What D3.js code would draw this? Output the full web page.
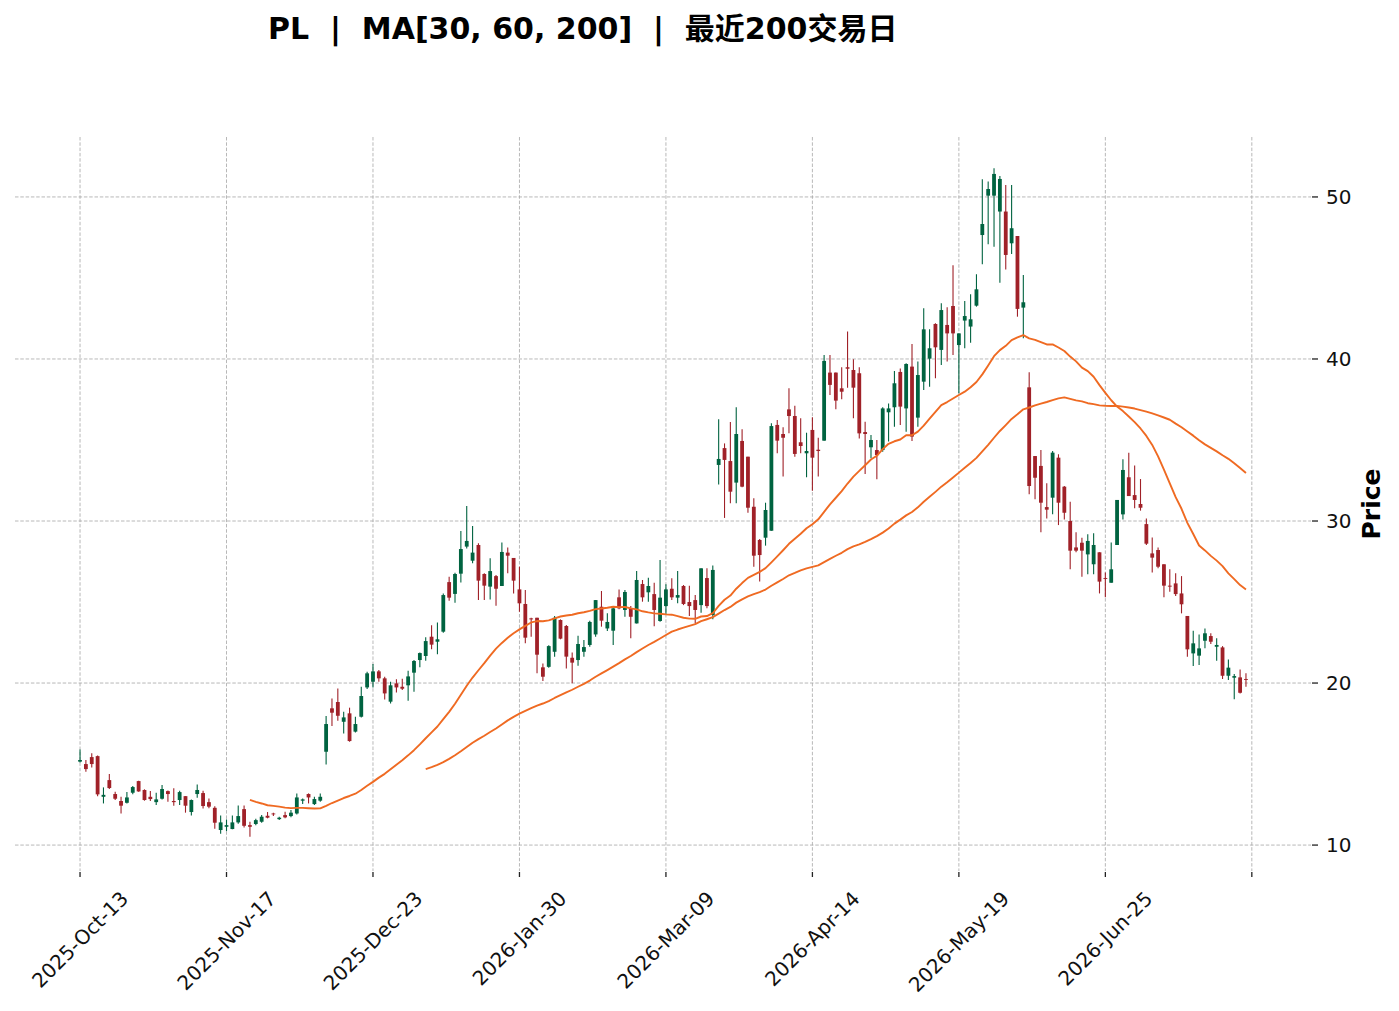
<!DOCTYPE html>
<html>
<head>
<meta charset="utf-8">
<script src="https://cdn.jsdelivr.net/npm/d3@7/dist/d3.min.js"></script>
<style>
  html, body { margin: 0; padding: 0; background: #ffffff; }
  svg { display: block; }
  text { font-family: "DejaVu Sans", "Noto Sans CJK SC", sans-serif; }
</style>
</head>
<body>
<svg id="chart" width="1399" height="1011"></svg>
<script>
// ---- data ----
const ticker = "PL";
const maPeriods = [30, 60, 200];
const titleSuffix = "最近200交易日";

const opens = [15.15,15.0,15.43,15.49,12.98,14.01,13.15,12.72,12.61,13.23,13.95,13.4,12.98,12.65,12.86,13.33,12.72,12.78,13.02,12.04,
13.15,13.21,12.65,12.3,10.93,11.13,10.99,11.4,12.22,11.23,11.3,11.44,11.81,11.95,11.6,11.85,11.79,11.95,12.74,13.15,
12.53,12.74,15.76,18.44,18.83,17.61,18.13,17.0,17.92,19.73,20.08,20.72,20.29,18.85,19.98,19.77,19.86,20.64,21.42,21.67,
22.86,22.55,23.17,26.23,25.5,26.75,28.42,27.55,28.52,26.73,25.95,26.6,25.99,28.05,27.72,25.78,24.88,23.99,24.03,20.97,
21.0,21.93,23.89,23.52,21.56,21.42,21.93,22.35,23.0,24.71,23.37,23.23,25.29,24.51,24.61,23.68,26.11,25.6,25.49,23.83,
24.75,25.82,25.27,25.99,25.0,25.12,24.81,26.48,24.2,33.46,34.5,33.7,32.37,34.94,33.97,30.88,28.83,28.97,29.4,35.93,
35.37,36.89,36.48,34.86,34.18,35.62,34.4,34.96,39.16,39.16,38.19,39.49,39.32,39.12,35.49,34.55,34.38,34.38,36.71,37.02,
39.2,36.95,39.53,36.38,38.6,40.02,42.16,40.56,42.1,43.27,40.86,42.37,42.0,43.29,47.65,50.08,50.08,49.1,49.1,47.14,
47.59,43.17,38.25,34.01,33.4,30.86,31.44,33.91,32.12,30.0,28.37,28.66,27.94,27.33,28.07,26.48,26.19,28.52,30.41,32.7,
31.6,31.05,29.81,28.0,28.21,27.33,26.01,26.15,25.53,24.14,21.83,21.69,22.61,22.9,22.24,22.2,20.45,20.33,20.35,20.25];

const highs = [15.9,15.25,15.66,15.53,13.56,14.38,13.29,12.98,13.27,13.64,13.97,13.44,13.33,13.23,13.7,13.37,13.5,13.35,13.02,12.82,
13.74,13.35,12.88,12.39,11.83,11.58,11.83,12.45,12.45,11.44,11.63,11.85,12.04,12.0,11.75,12.06,12.16,13.19,12.88,13.19,
12.98,13.19,17.96,19.05,19.67,18.23,18.48,17.92,19.77,20.7,21.17,20.8,20.39,20.08,20.23,20.27,20.76,21.42,21.89,22.82,
23.56,23.74,25.53,26.56,26.81,29.38,30.93,29.69,28.62,26.77,27.7,26.67,28.68,28.37,27.72,27.18,25.74,24.03,24.03,21.21,
22.33,24.14,23.93,23.58,21.89,22.92,22.65,23.85,25.12,25.68,24.3,24.71,25.78,25.74,24.75,26.91,26.36,26.5,26.19,27.59,
26.09,26.46,26.91,26.05,26.01,25.43,27.08,27.08,27.26,36.28,34.79,36.11,37.02,35.66,33.97,31.4,28.89,31.13,36.03,36.23,
35.78,38.19,37.12,36.34,35.45,36.4,35.14,40.25,40.25,39.16,39.49,41.69,39.98,39.49,36.13,35.31,35.0,37.02,37.26,39.26,
39.42,39.73,40.93,39.84,43.13,41.83,42.2,43.44,43.19,45.78,41.58,43.58,43.99,45.23,51.09,50.95,51.77,51.3,50.74,50.74,
47.59,45.19,39.18,34.01,34.38,32.33,34.32,34.12,32.16,31.19,29.3,28.97,29.18,29.24,28.07,26.83,28.68,31.3,33.81,34.22,
33.42,32.59,30.16,28.99,28.37,27.33,27.02,26.77,26.6,24.14,23.23,23.0,23.37,23.07,22.76,22.28,21.46,20.56,20.84,20.6];

const lows = [15.1,14.53,14.79,13.02,12.57,13.46,12.78,11.95,12.57,13.13,13.29,12.74,12.72,12.47,12.82,12.67,12.43,12.47,12.0,11.83,
12.92,12.26,12.28,11.01,10.7,10.86,10.97,11.32,11.09,10.51,11.23,11.38,11.65,11.8,11.55,11.65,11.71,11.89,12.53,12.57,
12.47,12.67,14.98,17.35,17.67,16.89,16.38,16.95,17.88,19.63,19.73,20.08,18.99,18.74,19.42,19.57,18.91,19.47,20.97,21.38,
22.08,21.77,23.11,25.08,24.96,26.21,28.31,27.39,25.12,25.12,25.16,24.77,25.99,26.77,25.53,24.4,22.45,22.86,20.6,20.12,
20.95,21.63,22.7,20.9,19.98,21.07,21.63,22.24,22.86,23.48,23.21,22.35,24.55,24.09,22.76,23.68,25.02,25.02,23.5,23.79,
24.2,25.12,24.92,24.81,24.14,23.68,24.34,24.61,23.93,32.26,30.19,31.09,31.09,32.08,30.51,27.18,26.26,28.48,29.4,34.18,
32.74,35.41,33.97,34.18,32.7,31.87,32.74,34.96,37.78,36.89,37.51,38.23,36.34,35.1,32.9,33.87,32.57,34.28,34.9,35.82,
35.93,35.51,34.94,35.82,38.09,38.29,38.81,39.63,39.84,40.25,37.88,40.66,41.0,43.23,45.84,47.08,46.93,44.71,45.53,46.48,
42.61,41.28,31.65,31.34,29.3,30.16,30.41,29.75,30.1,27.02,28.07,26.56,26.71,26.71,25.53,25.29,26.19,28.52,30.1,31.54,
30.78,30.64,28.52,26.83,27.08,25.29,25.64,25.37,24.3,21.63,21.05,21.11,22.14,22.41,21.38,20.25,20.19,19.0,19.36,19.77];

const closes = [15.25,14.69,15.0,13.13,13.1,13.52,12.86,12.43,12.94,13.58,13.31,12.78,12.84,12.82,13.46,13.15,12.65,13.27,12.43,12.78,
13.4,12.41,12.37,11.38,11.4,11.23,11.4,11.79,11.19,11.13,11.54,11.75,11.69,11.9,11.69,11.71,12.0,12.94,12.82,12.94,
12.84,12.98,17.47,18.17,17.98,17.88,16.42,17.47,19.2,20.6,20.72,20.29,19.36,19.86,19.73,19.65,20.41,21.36,21.85,22.59,
22.37,22.7,25.43,25.27,26.73,28.27,28.77,28.05,26.32,26.01,26.91,25.82,28.09,27.86,26.32,24.92,22.8,23.93,21.75,20.39,
22.28,24.03,22.74,21.63,21.26,22.41,22.22,23.77,25.12,23.85,23.77,24.61,24.61,25.62,24.09,26.36,25.29,25.99,24.51,25.27,
25.78,25.29,25.43,24.88,24.75,24.51,27.08,24.75,26.98,33.83,33.77,31.81,35.37,32.12,30.82,27.86,27.9,30.68,35.86,34.96,
35.14,36.48,34.14,34.63,34.32,33.91,34.32,39.88,38.4,37.43,37.98,39.4,38.23,35.41,35.37,35.0,34.07,36.95,36.95,38.5,
37.06,39.69,35.21,39.01,41.83,40.66,40.72,43.02,41.58,41.58,41.58,42.65,42.45,44.3,48.33,50.49,51.42,51.11,46.42,48.07,
43.09,43.5,32.16,32.67,31.13,30.7,34.22,31.13,30.51,28.17,28.17,28.17,28.77,28.52,26.26,26.44,27.02,31.3,33.15,31.54,
31.3,30.82,28.6,27.74,27.18,26.01,25.95,25.49,24.86,22.08,22.45,22.14,23.07,22.55,22.35,20.45,20.95,20.43,19.4,20.2];

const xTickIndex = [0, 25, 50, 75, 100, 125, 150, 175, 200];
const xTickLabels = ["2025-Oct-13","2025-Nov-17","2025-Dec-23","2026-Jan-30","2026-Mar-09","2026-Apr-14","2026-May-19","2026-Jun-25",""];
const yTicks = [10, 20, 30, 40, 50];

// ---- layout ----
const svg = d3.select("#chart");
const L = 15, R = 1311, T = 137, B = 871;
const x = d3.scaleLinear().domain([-11.1, 210.1]).range([L, R]);
const y = d3.scaleLinear().domain([8.4, 53.7]).range([B, T]);

const upColor = "#006340", downColor = "#a02128", maColor = "#ef6a22";
const gridColor = "#a6a6a6";

// grid
const g = svg.append("g");
g.selectAll(".hg").data(yTicks).enter().append("line")
  .attr("x1", L).attr("x2", R).attr("y1", d => y(d)).attr("y2", d => y(d))
  .attr("stroke", gridColor).attr("stroke-width", 0.8).attr("stroke-dasharray", "3.5,1.8");
g.selectAll(".vg").data(xTickIndex).enter().append("line")
  .attr("x1", d => x(d)).attr("x2", d => x(d)).attr("y1", T).attr("y2", B)
  .attr("stroke", gridColor).attr("stroke-width", 0.8).attr("stroke-dasharray", "3.5,1.8");

// candles
const bars = closes.map((c, i) => ({i, o: opens[i], h: highs[i], l: lows[i], c}));
const cg = svg.append("g");
cg.selectAll(".wick").data(bars).enter().append("line")
  .attr("x1", d => x(d.i)).attr("x2", d => x(d.i))
  .attr("y1", d => y(d.h)).attr("y2", d => y(d.l))
  .attr("stroke", d => d.c >= d.o ? upColor : downColor).attr("stroke-width", 1.1);
const bw = (x(1) - x(0)) * 0.65;
cg.selectAll(".body").data(bars).enter().append("rect")
  .attr("x", d => x(d.i) - bw / 2).attr("width", bw)
  .attr("y", d => y(Math.max(d.o, d.c)))
  .attr("height", d => Math.max(0.9, Math.abs(y(d.o) - y(d.c))))
  .attr("fill", d => d.c >= d.o ? upColor : downColor);

// moving averages
maPeriods.forEach(p => {
  const pts = [];
  for (let i = p - 1; i < closes.length; i++) {
    pts.push([i, d3.mean(closes.slice(i - p + 1, i + 1))]);
  }
  if (pts.length < 2) return;
  svg.append("path").datum(pts)
    .attr("d", d3.line().x(d => x(d[0])).y(d => y(d[1])))
    .attr("fill", "none").attr("stroke", maColor).attr("stroke-width", 1.9)
    .attr("stroke-linejoin", "round");
});

// y axis (right)
const ya = svg.append("g");
ya.selectAll(".yt").data(yTicks).enter().append("line")
  .attr("x1", R + 1).attr("x2", R + 7).attr("y1", d => y(d)).attr("y2", d => y(d))
  .attr("stroke", "#222").attr("stroke-width", 1.3);
ya.selectAll(".yl").data(yTicks).enter().append("text")
  .attr("x", R + 15).attr("y", d => y(d)).attr("dy", "0.36em")
  .attr("font-size", 20).attr("fill", "#111").text(d => d);
svg.append("text")
  .attr("transform", `translate(1380,${(T + B) / 2}) rotate(-90)`)
  .attr("text-anchor", "middle").attr("font-size", 25).attr("font-weight", "bold")
  .attr("fill", "#000").text("Price");

// x axis
const xa = svg.append("g");
xa.selectAll(".xt").data(xTickIndex).enter().append("line")
  .attr("x1", d => x(d)).attr("x2", d => x(d)).attr("y1", B + 1).attr("y2", B + 6)
  .attr("stroke", "#222").attr("stroke-width", 1.3);
xTickIndex.forEach((idx, k) => {
  const lab = xTickLabels[k];
  if (!lab) return;
  const t = xa.append("text").attr("font-size", 20).attr("fill", "#111")
    .attr("text-anchor", "end").text(lab);
  const len = t.node().getComputedTextLength();
  const px = x(idx) + 0.7071 * (len + 18.6 - 4.7) / 2;
  const py = 900;
  t.attr("transform", `translate(${px},${py}) rotate(-45)`);
});

// title
svg.append("text")
  .attr("x", 268).attr("y", 39)
  .attr("font-size", 30).attr("font-weight", "bold").attr("fill", "#000")
  .style("white-space", "pre")
  .text(`${ticker}  |  MA[${maPeriods.join(", ")}]  |  ${titleSuffix}`);
</script>
</body>
</html>
